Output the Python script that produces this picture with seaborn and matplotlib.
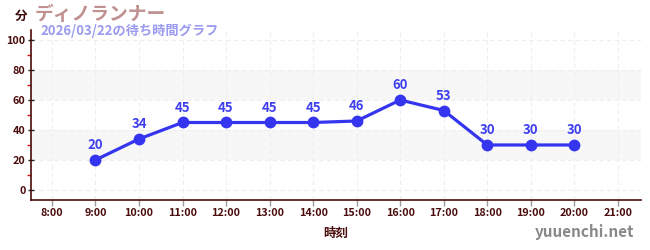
import matplotlib
matplotlib.use("Agg")
import matplotlib.pyplot as plt
import seaborn as sns
import pandas as pd
from matplotlib.ticker import MultipleLocator

hours = [9, 10, 11, 12, 13, 14, 15, 16, 17, 18, 19, 20]
waits = [20, 34, 45, 45, 45, 45, 46, 60, 53, 30, 30, 30]
tick_hours = list(range(8, 22))
tick_labels = [f"{h}:00" for h in tick_hours]
title_unit = "分"
title_main = "ディノランナー"
subtitle = "2026/03/22の待ち時間グラフ"
xlabel = "時刻"
watermark = "yuuenchi.net"

sns.set_theme(style="white")
plt.rcParams['font.family'] = ['Noto Sans CJK JP', 'DejaVu Sans']

df = pd.DataFrame({"hour": hours, "wait": waits})

fig = plt.figure(figsize=(6.5, 2.5), dpi=100)
ax = fig.add_axes([31/650, 1-200/250, 610/650, 170/250])

for lo, hi in [(20, 40), (60, 80)]:
    ax.axhspan(lo, hi, color="#f7f7f7", zorder=0, lw=0)

line_color = "#3535f0"
sns.lineplot(data=df, x="hour", y="wait", ax=ax, color=line_color, lw=2.3,
             marker="o", markersize=8.5, markeredgewidth=0, zorder=3)

for h, w in zip(hours, waits):
    ax.annotate(str(w), (h, w), xytext=(0, 5.5), textcoords="offset points",
                ha="center", va="bottom", fontsize=9.5, fontweight="bold",
                color="#3f3ff0", zorder=4)

ax.set_xlim(7.52, 21.53)
ax.set_ylim(-6.7, 106.7)
ax.set_xticks(tick_hours)
ax.set_xticklabels(tick_labels)
ax.set_yticks([0, 20, 40, 60, 80, 100])
ax.yaxis.set_minor_locator(MultipleLocator(10))

ax.grid(True, which="major", color="#eeeeee", ls=(0, (4, 3)), lw=0.8, zorder=1)
ax.set_axisbelow(True)

dark = "#4a0c0c"
for s in ["top", "right"]:
    ax.spines[s].set_visible(False)
ax.spines["left"].set_color(dark)
ax.spines["bottom"].set_color(dark)
ax.spines["left"].set_linewidth(1.2)
ax.spines["bottom"].set_linewidth(1.2)

ax.tick_params(axis="y", which="major", length=4, width=1, color="#222222",
               labelsize=7.8, labelcolor=dark, pad=2, left=True, direction="inout")
ax.tick_params(axis="y", which="minor", length=3, width=1, color="#e01010", left=True)
ax.tick_params(axis="x", which="major", length=4, width=1, color="#999999",
               labelsize=7.8, labelcolor=dark, pad=2, bottom=True)
for lab in ax.get_xticklabels() + ax.get_yticklabels():
    lab.set_fontweight("bold")

ax.set_xlabel(xlabel, fontsize=9, fontweight="bold", color=dark, labelpad=6)
ax.set_ylabel("")

fig.text(15/650, 1-16/250, title_unit, fontsize=9, fontweight="bold",
         color="#3a0a0a", ha="left", va="center")
fig.text(35/650, 1-14/250, title_main, fontsize=13.5, fontweight="bold",
         color="#c09090", ha="left", va="center")
fig.text(40/650, 1-31/250, subtitle, fontsize=9.5, fontweight="bold",
         color="#9a9af0", ha="left", va="center")
fig.text(634/650, 1-232/250, watermark, fontsize=11, fontweight="bold",
         color="#888888", ha="right", va="center")

fig.savefig("out.png", dpi=100)
